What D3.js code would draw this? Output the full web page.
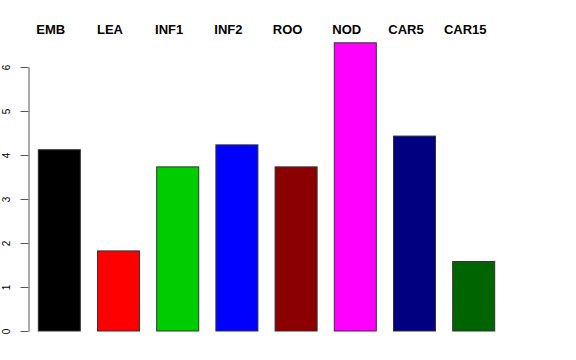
<!DOCTYPE html>
<meta charset="utf-8">
<style>
  body { margin: 0; background: #fff; }
  .bars rect { stroke: #333; stroke-width: 1px; }
  .labels text { font: bold 13px "Liberation Sans", Arial, sans-serif; text-anchor: middle; }
  .yaxis text { font: 10px "Liberation Sans", Arial, sans-serif; fill: #000; }
  .yaxis line, .yaxis path { stroke: #555; }
</style>
<svg width="576" height="360"></svg>
<script src="https://d3js.org/d3.v7.min.js"></script>
<script>

    var svg = d3.select("svg");

    // values
    var categories = ["EMB", "LEA", "INF1", "INF2", "ROO", "NOD", "CAR5", "CAR15"];
    var values = [4.12, 1.82, 3.73, 4.23, 3.73, 6.55, 4.43, 1.58];
    var colors = ["#000000", "#FF0000", "#00CD00", "#0000FF", "#8B0000", "#FF00FF", "#000080", "#006400"];
    var yTicks = [0, 1, 2, 3, 4, 5, 6];

    var x = d3.scaleBand()
        .domain(categories)
        .range([29, 504])
        .paddingInner(0.29)
        .paddingOuter(0.157);

    var y = d3.scaleLinear()
        .domain([0, 6])
        .range([331, 67]);

    svg.append("g")
        .attr("class", "bars")
        .selectAll("rect")
        .data(categories)
        .enter().append("rect")
        .attr("x", function(d) { return x(d); })
        .attr("width", x.bandwidth())
        .attr("y", function(d, i) { return y(values[i]); })
        .attr("height", function(d, i) { return y(0) - y(values[i]); })
        .attr("fill", function(d, i) { return colors[i]; });

    // names sit above the plot, a bit left of each bar centre
    svg.append("g")
        .attr("class", "labels")
        .selectAll("text")
        .data(categories)
        .enter().append("text")
        .attr("x", function(d) { return x(d) + x.bandwidth() / 2 - 8.5; })
        .attr("y", 34)
        .text(function(d) { return d; });

    var yAxis = svg.append("g")
        .attr("class", "yaxis")
        .attr("transform", "translate(28.5,0)")
        .call(d3.axisLeft(y).tickValues(yTicks).tickSize(8).tickSizeOuter(0).tickFormat(d3.format("d")));

    yAxis.selectAll("text")
        .attr("x", 0)
        .attr("dy", null)
        .attr("transform", "translate(-18.5,0) rotate(-90)")
        .style("text-anchor", "middle");

</script>
